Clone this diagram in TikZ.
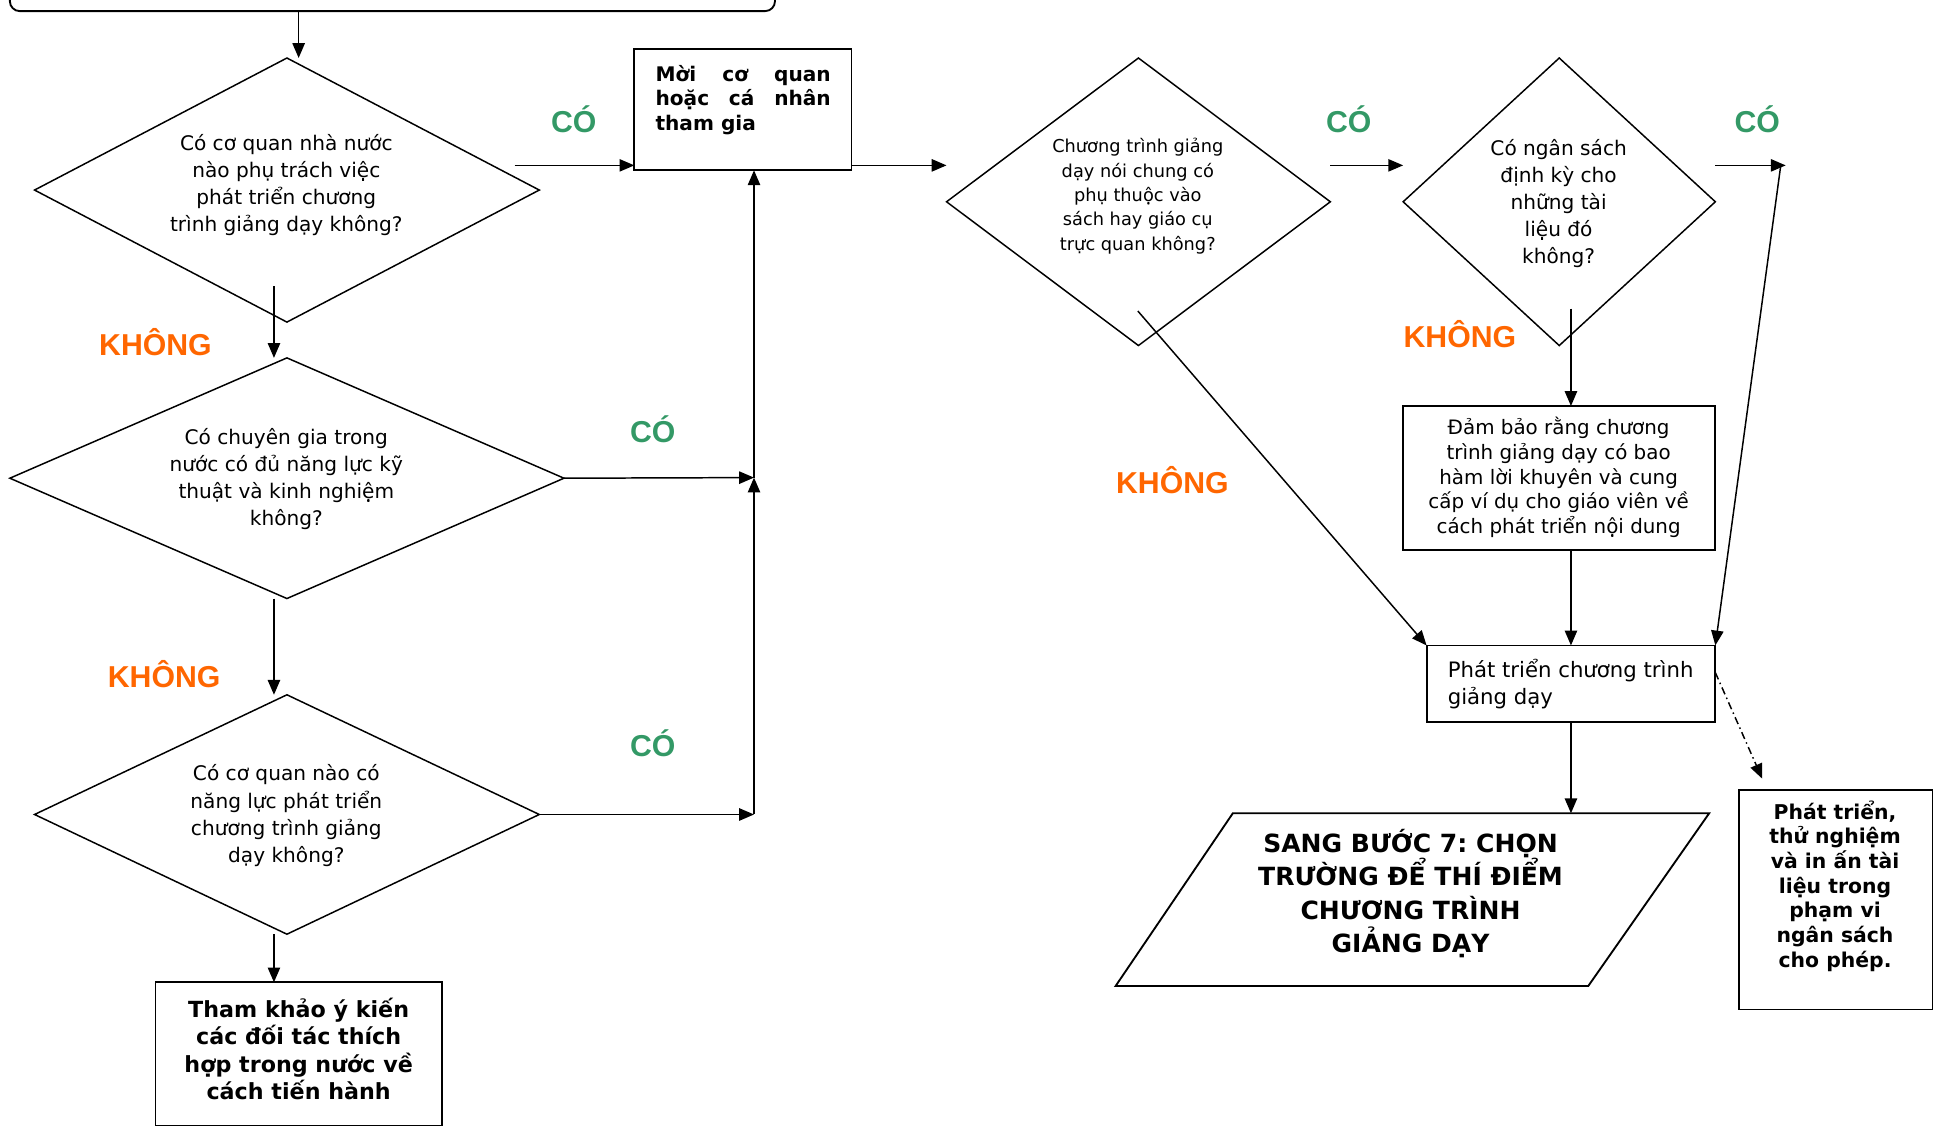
\documentclass[tikz,border=0pt]{standalone}
\usepackage{fontspec}
\setmainfont{DejaVu Sans}
\newfontfamily\labfont{Liberation Sans}
\usetikzlibrary{arrows.meta,shapes.geometric,calc}
\definecolor{cogreen}{HTML}{339966}
\definecolor{coorange}{HTML}{FF6600}
\frenchspacing
\begin{document}
\begin{tikzpicture}[x=1pt,y=1pt,
  dia/.style={draw, diamond, inner sep=0pt, outer sep=0pt, line width=1.2pt},
  box/.style={draw, rectangle, inner sep=0pt, outer sep=0pt, line width=1.5pt},
  qt/.style={align=center, inner sep=0pt, font=\fontsize{16.3}{22}\selectfont},
  bt/.style={align=center, inner sep=0pt, font=\bfseries\fontsize{18}{22}\selectfont},
  yes/.style={text=cogreen, inner sep=0pt, font=\labfont\bfseries\fontsize{24.5}{24.5}\selectfont},
  no/.style={text=coorange, inner sep=0pt, font=\labfont\bfseries\fontsize{24.5}{24.5}\selectfont},
  arr/.style={line width=1.2pt, -{Triangle[length=12pt,width=10pt]}},
  dashdot/.style={dash pattern=on 6pt off 3pt on 1.2pt off 3pt}
]
\useasboundingbox (0,0) rectangle (1568,-914);

% top box (cut off)
\node[box, rounded corners=8pt, minimum width=620pt, minimum height=60pt, anchor=south west] (top) at (8,-9) {};

% diamonds
\node[dia, minimum width=409pt, minimum height=214pt] (d1) at (232.5,-154) {};
\node[qt] (d1t) at (232,-150) {Có cơ quan nhà nước\\nào phụ trách việc\\phát triển chương\\trình giảng dạy không?};

\node[dia, minimum width=449pt, minimum height=195pt] (d2) at (232.5,-387.5) {};
\node[qt] (d2t) at (232,-388) {Có chuyên gia trong\\nước có đủ năng lực kỹ\\thuật và kinh nghiệm\\không?};

\node[dia, minimum width=409pt, minimum height=194pt] (d3) at (232.5,-660) {};
\node[qt] (d3t) at (232,-661) {Có cơ quan nào có\\năng lực phát triển\\chương trình giảng\\dạy không?};

\node[dia, minimum width=311pt, minimum height=233pt] (d4) at (922.5,-163.5) {};
\node[align=center, inner sep=0pt, font=\fontsize{14.4}{19.7}\selectfont] (d4t) at (922,-159) {Chương trình giảng\\dạy nói chung có\\phụ thuộc vào\\sách hay giáo cụ\\trực quan không?};

\node[dia, minimum width=253pt, minimum height=233pt] (d5) at (1263.5,-163.5) {};
\node[qt] (d5t) at (1263,-165) {Có ngân sách\\định kỳ cho\\những tài\\liệu đó\\không?};

% boxes
\node[box, minimum width=176pt, minimum height=98pt] (moi) at (602,-89) {};
\node[anchor=north west, inner sep=0pt, text width=142pt, align=justify, font=\bfseries\fontsize{16.3}{20}\selectfont] (moit) at (531,-52.5) {Mời cơ quan\linebreak hoặc cá nhân\linebreak tham gia};

\node[box, minimum width=232pt, minimum height=116pt] (tham) at (242,-854) {};
\node[bt] (thamt) at (242,-850) {Tham khảo ý kiến\\các đối tác thích\\hợp trong nước về\\cách tiến hành};

\node[box, minimum width=253pt, minimum height=117pt] (dam) at (1263.5,-387.5) {};
\node[align=center, inner sep=0pt, font=\fontsize{16.1}{20}\selectfont] (damt) at (1263,-387) {Đảm bảo rằng chương\\trình giảng dạy có bao\\hàm lời khuyên và cung\\cấp ví dụ cho giáo viên về\\cách phát triển nội dung};

\node[box, minimum width=234pt, minimum height=62pt] (dev) at (1273,-554) {};
\node[anchor=west, align=left, inner sep=0pt, font=\fontsize{17.2}{22}\selectfont] (devt) at (1173,-554) {Phát triển chương trình\\giảng dạy};

\node[box, minimum width=157pt, minimum height=178pt] (rbox) at (1487.5,-729) {};
\node[align=center, inner sep=0pt, font=\bfseries\fontsize{16.5}{20}\selectfont] (rboxt) at (1487,-718) {Phát triển,\\thử nghiệm\\và in ấn tài\\liệu trong\\phạm vi\\ngân sách\\cho phép.};

% parallelogram
\coordinate (p1) at (999,-659);
\coordinate (p2) at (1385,-659);
\coordinate (p3) at (1287,-799);
\coordinate (p4) at (904,-799);
\draw[line width=1.5pt] (p1) -- (p2) -- (p3) -- (p4) -- cycle;
\node[align=center, inner sep=0pt, font=\bfseries\fontsize{20.3}{27}\selectfont] (parat) at (1143,-724) {SANG BƯỚC 7: CHỌN\\TRƯỜNG ĐỂ THÍ ĐIỂM\\CHƯƠNG TRÌNH\\GIẢNG DẠY};

% labels
\node[yes] (y1) at (465,-97) {CÓ};
\node[yes] (y2) at (529,-348) {CÓ};
\node[yes] (y3) at (529,-602) {CÓ};
\node[yes] (y4) at (1093,-97) {CÓ};
\node[yes] (y5) at (1424,-97) {CÓ};
\node[no] (n1) at (126,-277) {KHÔNG};
\node[no] (n2) at (133,-546) {KHÔNG};
\node[no] (n3) at (950,-389) {KHÔNG};
\node[no] (n4) at (1183,-271) {KHÔNG};

% coordinates for free ends
\coordinate (a0) at (242,-47);
\coordinate (a1) at (222,-232);
\coordinate (a2) at (222,-485);
\coordinate (a3) at (222,-757);
\coordinate (c1) at (417,-134);
\coordinate (j2) at (611,-387);
\coordinate (j3) at (611,-660);
\coordinate (c5) at (1447,-134);
\coordinate (c5b) at (1443,-134);
\coordinate (c6) at (1273,-250);
\coordinate (c7) at (922,-252);
\coordinate (c8) at (1390,-545);
\coordinate (c9) at (1428,-631);

% connectors
\draw[arr] (top.south -| a0) -- (a0);
\draw[arr] (a1) -- (a1 |- d2.north);
\draw[arr] (a2) -- (a2 |- d3.north);
\draw[arr] (a3) -- (a3 |- tham.north);
\draw[arr] (c1) -- (c1 -| moi.west);
\draw[arr] (d2.east) -- (j2);
\draw[arr] (d3.east) -- (j3);
\draw[arr] (j3) -- (j2);
\draw[arr] (j2) -- (j2 |- moi.south);
\draw[arr] (moi.east |- c1) -- (d4.west |- c1);
\draw[arr] (d4.east |- c1) -- (d5.west |- c1);
\draw[arr] (d5.east |- c1) -- (c5);
\draw[arr] (c5b) -- (dev.north east);
\draw[arr] (c6) -- (c6 |- dam.north);
\draw[arr] (c6 |- dam.south) -- (c6 |- dev.north);
\draw[arr] (c7) -- (dev.north west);
\draw[arr] (dev.south) -- (dev.south |- p1);
\draw[arr, dashdot] (c8) -- (c9);
\end{tikzpicture}
\end{document}
